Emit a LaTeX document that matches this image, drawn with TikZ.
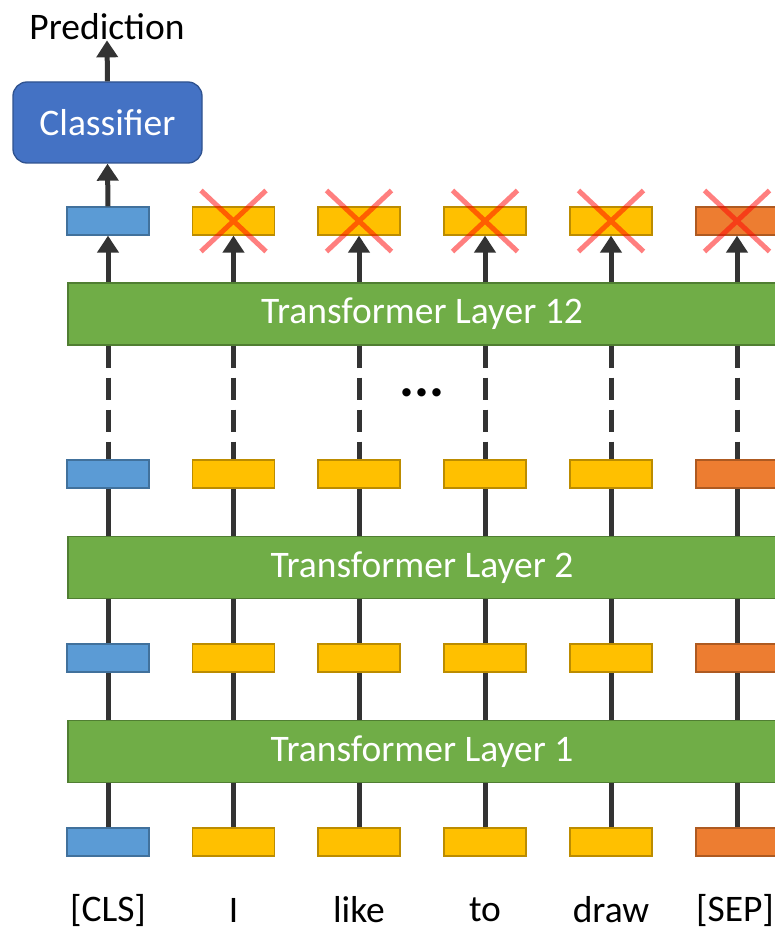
\documentclass[tikz,border=0pt]{standalone}
\usepackage{fontspec}
\setmainfont{Carlito}
\usetikzlibrary{arrows.meta,shapes.misc}

\definecolor{clsfill}{HTML}{5B9BD5}
\definecolor{clsline}{HTML}{41719C}
\definecolor{wrdfill}{HTML}{FFC000}
\definecolor{wrdline}{HTML}{BC8C00}
\definecolor{sepfill}{HTML}{ED7D31}
\definecolor{sepline}{HTML}{AE5A21}
\definecolor{layfill}{HTML}{70AD47}
\definecolor{layline}{HTML}{507E32}
\definecolor{clffill}{HTML}{4472C4}
\definecolor{clfline}{HTML}{2F528F}
\definecolor{linkc}{HTML}{333333}

\begin{document}
\begin{tikzpicture}[x=1pt,y=-1pt,
  bigtext/.style={font=\fontsize{37.5}{44}\selectfont},
  tok/.style={draw, line width=1.3pt, minimum width=82pt, minimum height=28pt, inner sep=0pt},
  clstok/.style={tok, fill=clsfill, draw=clsline},
  wrdtok/.style={tok, fill=wrdfill, draw=wrdline},
  septok/.style={tok, fill=sepfill, draw=sepline},
  layer/.style={bigtext, draw=layline, fill=layfill, line width=1.3pt, text=white,
    minimum width=708pt, minimum height=62pt, inner sep=0pt},
  link/.style={line width=5pt, draw=linkc},
  arr/.style={link, -{Triangle[width=21pt,length=17pt]}},
  dashlink/.style={link, dash pattern=on 22pt off 10pt},
  dropped/.style={cross out, draw=red, draw opacity=0.5, line width=5pt,
    minimum width=60pt, minimum height=56pt, inner sep=0pt},
  lbl/.style={bigtext, inner sep=0pt}
]
\useasboundingbox (0,0) rectangle (775,933);

% transformer layers
\node[layer] (L12) at (422,314) {Transformer Layer 12};
\node[layer] (L2)  at (422,567.5) {Transformer Layer 2};
\node[layer] (L1)  at (422,751.5) {Transformer Layer 1};

% token rows: c = input, b = after layer 1, a = after layer 2, t = output
\foreach \r/\y in {c/842, b/658, a/474, t/221}{
  \node[clstok] (\r0) at (108,\y) {};
  \node[wrdtok] (\r1) at (233.5,\y) {};
  \node[wrdtok] (\r2) at (359,\y) {};
  \node[wrdtok] (\r3) at (485,\y) {};
  \node[wrdtok] (\r4) at (611,\y) {};
  \node[septok] (\r5) at (737,\y) {};
}

% input words
\node[lbl] (w0) at (108,910) {[CLS]};
\node[lbl] (w1) at (233.5,910) {I};
\node[lbl] (w2) at (359,910) {like};
\node[lbl] (w3) at (485,910) {to};
\node[lbl] (w4) at (611,910) {draw};
\node[lbl] (w5) at (735,910) {[SEP]};

% vertical connections per token
\foreach \i in {0,...,5}{
  \draw[link] (c\i.north) -- (c\i.north |- L1.south);
  \draw[link] (b\i.south |- L1.north) -- (b\i.south);
  \draw[link] (b\i.north) -- (b\i.north |- L2.south);
  \draw[link] (a\i.south |- L2.north) -- (a\i.south);
  \draw[dashlink] (a\i.north |- L12.south) -- (a\i.north);
  \draw[arr] (t\i.south |- L12.north) -- (t\i.south);
}

% intermediate layers omitted
\node[font=\fontsize{56}{60}\selectfont\bfseries, inner sep=0pt] (dots) at (422,393) {...};

% classification head
\node[bigtext, draw=clfline, fill=clffill, text=white, line width=1.3pt,
  rounded corners=14pt, minimum width=189pt, minimum height=81pt, inner sep=0pt]
  (clf) at (107.5,122.5) {Classifier};
\node[lbl] (pred) at (107,27) {Prediction};
\draw[arr] (t0.north) -- (clf.south);
\draw[arr] (clf.north) -- (pred.south);

% discarded token outputs
\foreach \i in {1,...,5}{
  \node[dropped] (x\i) at (t\i) {};
}
\end{tikzpicture}
\end{document}
